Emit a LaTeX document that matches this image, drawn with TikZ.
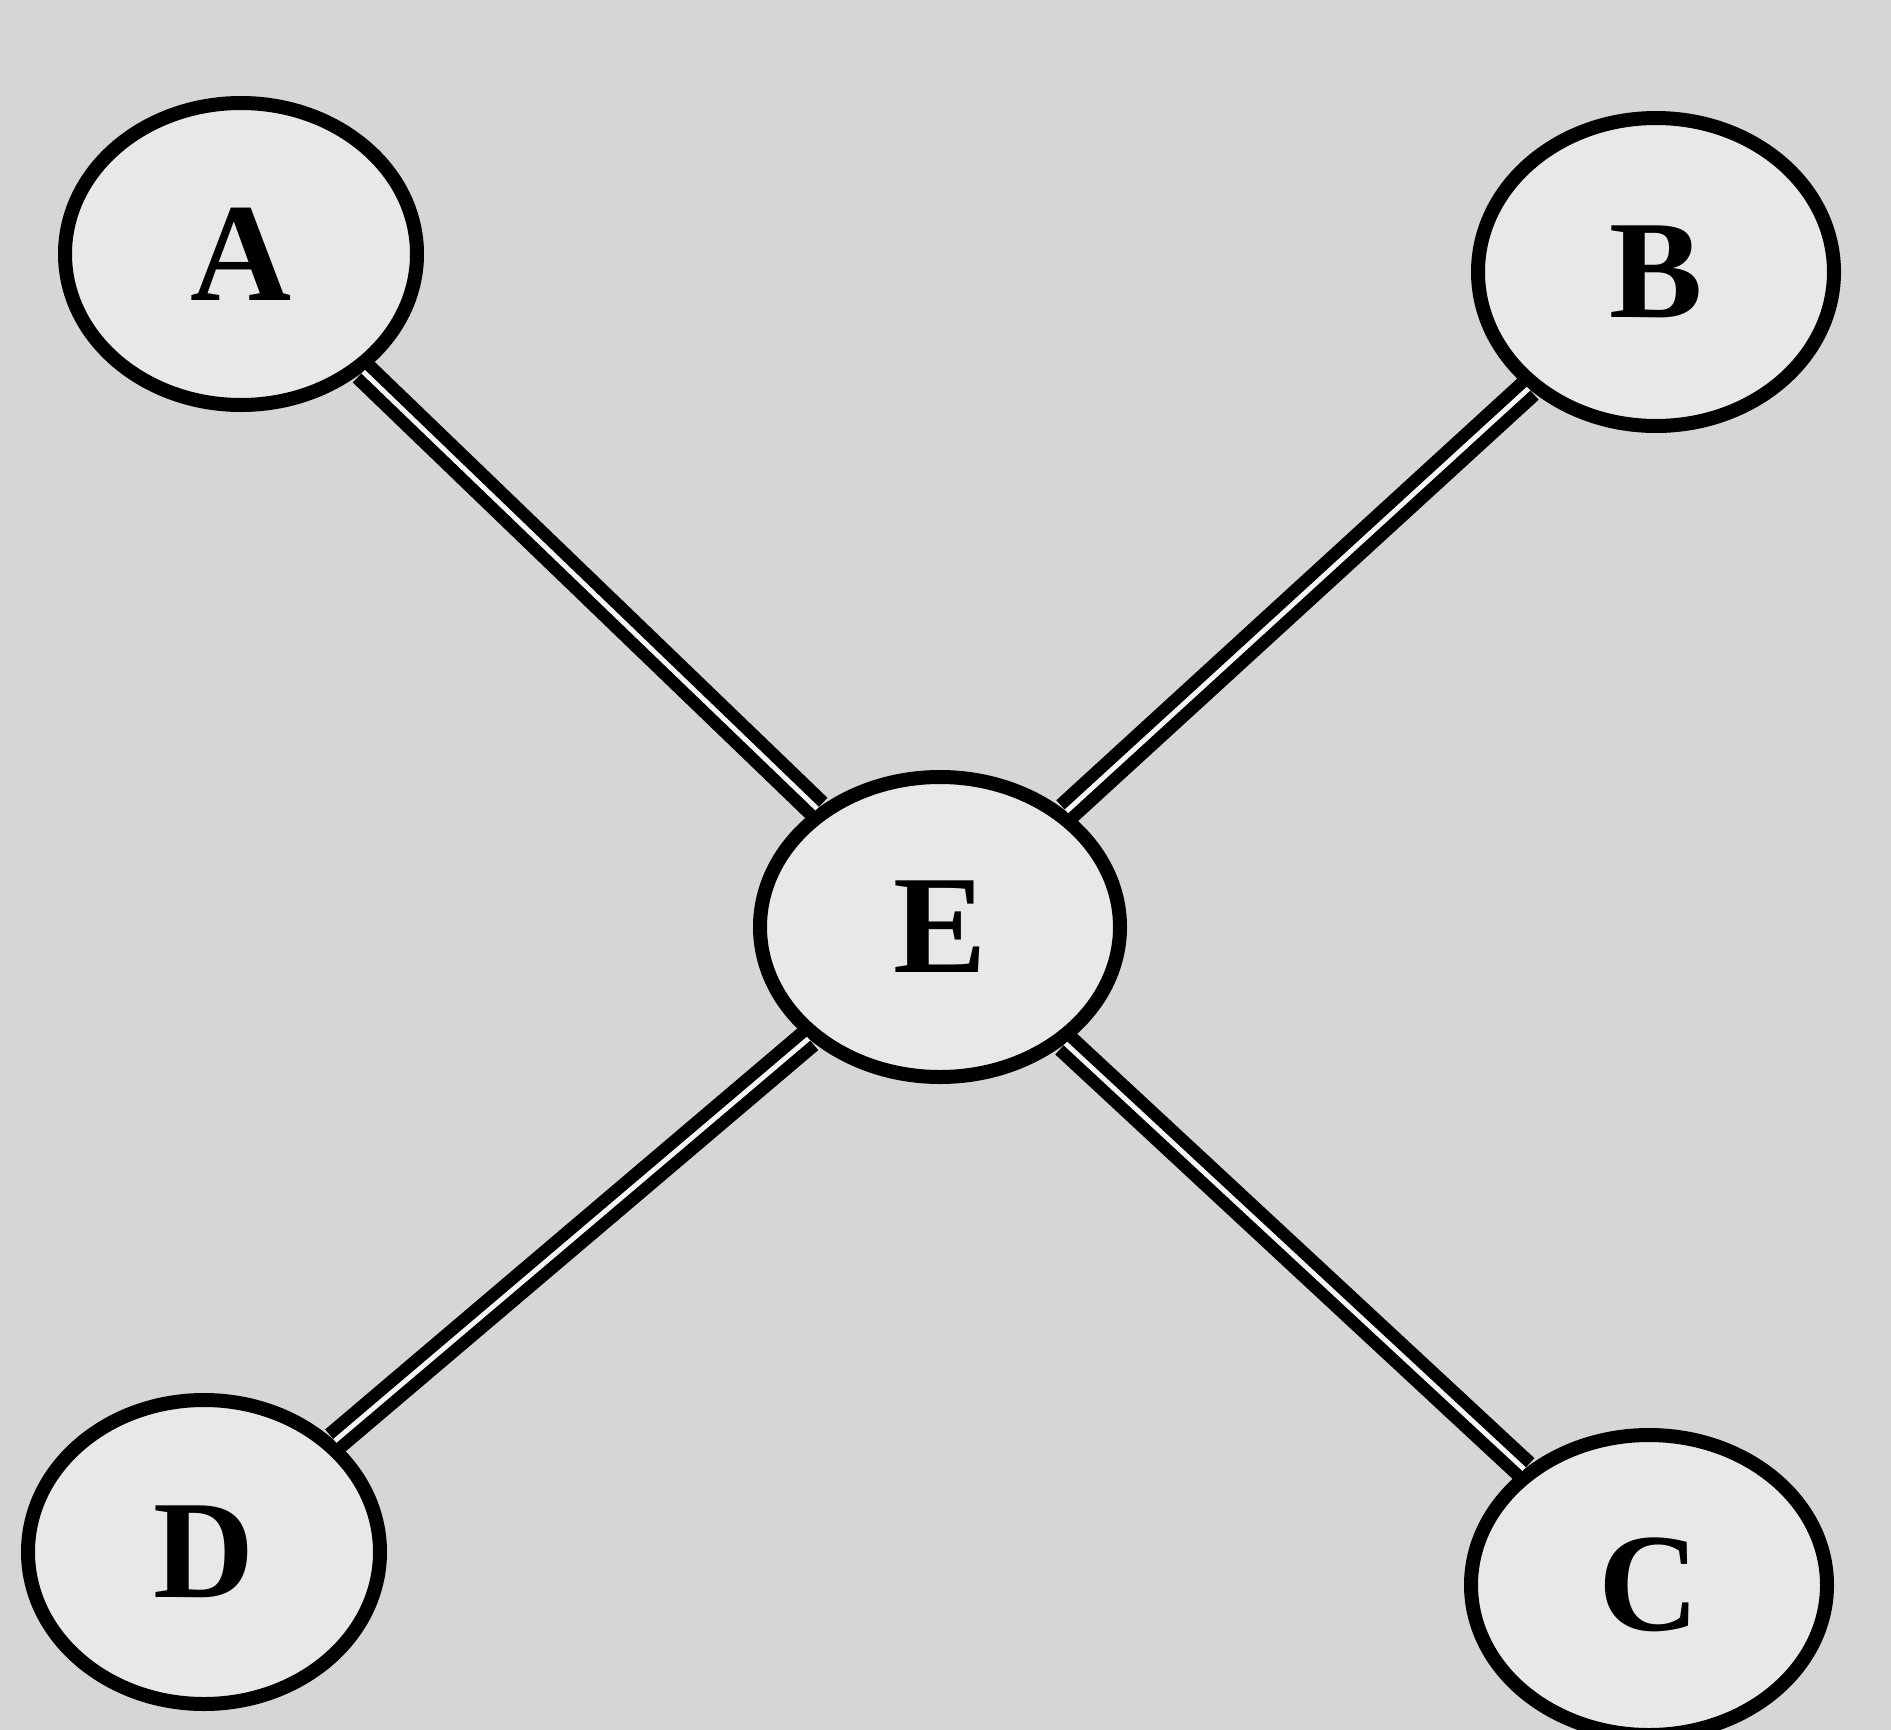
\documentclass[tikz,border=0pt]{standalone}
\usepackage{fontspec}
\setmainfont{Liberation Serif}
\usetikzlibrary{shapes.geometric}
\definecolor{bgray}{gray}{0.84}
\definecolor{ngray}{gray}{0.91}
\definecolor{gapcol}{gray}{0.96}
\tikzset{
  vnode/.style={ellipse, draw=black, line width=7pt, fill=ngray, inner sep=0pt,
    font=\fontsize{70}{70}\selectfont\bfseries},
  conn/.style={draw=black, line width=15pt,
    postaction={draw=gapcol, line width=2.5pt}}
}
\begin{document}
\begin{tikzpicture}[x=0.5pt, y=-0.5pt]
\fill[bgray] (0,0) rectangle (1891,1730);
\useasboundingbox (0,0) rectangle (1891,1730);
\node[vnode, minimum width=176pt, minimum height=151pt] (A) at (241,254) {A};
\node[vnode, minimum width=178pt, minimum height=154pt] (B) at (1656,272) {B};
\node[vnode, minimum width=180pt, minimum height=150pt] (E) at (940,927) {E};
\node[vnode, minimum width=176pt, minimum height=152pt] (D) at (204,1552) {D};
\node[vnode, minimum width=178pt, minimum height=150pt] (C) at (1649,1585) {C};
\draw[conn] (A) -- (E);
\draw[conn] (B) -- (E);
\draw[conn] (C) -- (E);
\draw[conn] (D) -- (E);
\end{tikzpicture}
\end{document}
